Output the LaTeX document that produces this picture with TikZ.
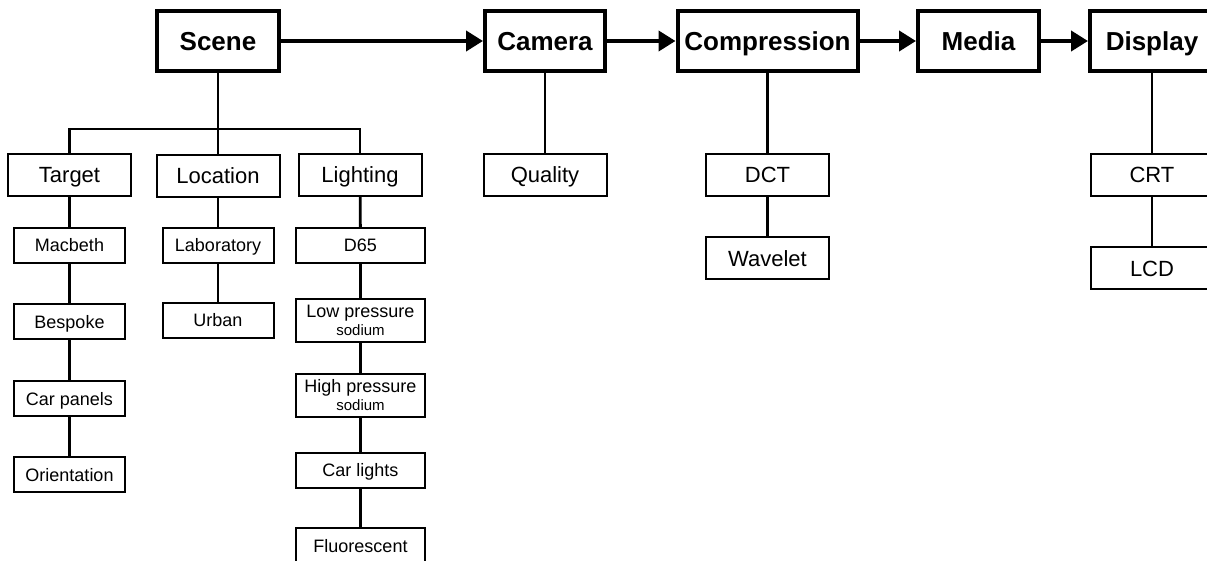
\documentclass[tikz,border=0pt]{standalone}
\usepackage{fontspec}
\setmainfont{Liberation Sans}
\usetikzlibrary{positioning, arrows.meta}

\begin{document}
\begin{tikzpicture}[x=0.5pt, y=-0.5pt,
  stage/.style={draw, line width=2pt, minimum height=30pt, inner sep=0pt, text height=9.3pt, text depth=0pt, font=\fontsize{13}{15}\selectfont\bfseries},
  part/.style={draw, line width=1pt, minimum width=61.5pt, minimum height=21pt, inner sep=0pt, text height=7.9pt, text depth=0pt, font=\fontsize{11}{13}\selectfont},
  cell/.style={draw, line width=1pt, minimum width=55.5pt, minimum height=17.5pt, inner sep=0pt, font=\fontsize{9}{10}\selectfont},
  item/.style={cell, text height=6.5pt, text depth=0pt},
  lamp/.style={item, minimum width=64.5pt},
  duo/.style={cell, minimum width=64.5pt, minimum height=21.5pt, align=center}]
  \useasboundingbox (0,0) rectangle (1207,561);
  \clip (0,0) rectangle (1207,561);
  \draw
    (218,41) node[stage, minimum width=61pt] (scene){Scene}
    (545,41) node[stage, minimum width=60pt] (camera){Camera}
    (767.5,41) node[stage, minimum width=90pt] (compression){Compression}
    (978.5,41) node[stage, minimum width=60.5pt] (media){Media}
    (1152,41) node[stage, minimum width=62pt] (display){Display};
  \draw
    (69.5,175) node[part] (target){Target}
    (218,176) node[part] (location){Location}
    (360,175) node[part] (lighting){Lighting}
    (545,175) node[part] (quality){Quality}
    (767.5,175) node[part] (dct){DCT}
    (767.5,258.5) node[part] (wavelet){Wavelet}
    (1152,175) node[part] (crt){CRT}
    (1152,268.5) node[part] (lcd){LCD};
  \draw
    (69.5,245.5) node[item] (macbeth){Macbeth}
    (69.5,322) node[item] (bespoke){Bespoke}
    (69.5,399) node[item] (carpanels){Car panels}
    (69.5,475) node[item] (orientation){Orientation}
    (218,245.5) node[item] (laboratory){Laboratory}
    (218,320.5) node[item] (urban){Urban}
    (360.5,245.5) node[lamp] (d65){D65}
    (360.5,320.5) node[duo] (lowsodium){Low pressure\\[-1pt]{\fontsize{7.5}{9}\selectfont sodium}}
    (360.5,395.5) node[duo] (highsodium){High pressure\\[-1pt]{\fontsize{7.5}{9}\selectfont sodium}}
    (360.5,470.5) node[lamp] (carlights){Car lights}
    (360.5,546) node[lamp] (fluorescent){Fluorescent};
  \begin{scope}[line width=1.4pt]
    \coordinate (split) at (218,129);
    \draw (scene) to (split);
    \draw (target.north) |- (split) -| (lighting.north);
    \draw (split) to (location);
    \draw (target) to (macbeth);
    \draw (macbeth) to (bespoke);
    \draw (bespoke) to (carpanels);
    \draw (carpanels) to (orientation);
    \draw (location) to (laboratory);
    \draw (laboratory) to (urban);
    \draw (lighting) to (d65);
    \draw (d65) to (lowsodium);
    \draw (lowsodium) to (highsodium);
    \draw (highsodium) to (carlights);
    \draw (carlights) to (fluorescent);
    \draw (camera) to (quality);
    \draw (compression) to (dct);
    \draw (dct) to (wavelet);
    \draw (display) to (crt);
    \draw (crt) to (lcd);
  \end{scope}
  \begin{scope}[line width=2pt, -{Triangle[length=8.5pt, width=10pt]}]
    \draw (scene) to (camera);
    \draw (camera) to (compression);
    \draw (compression) to (media);
    \draw (media) to (display);
  \end{scope}
\end{tikzpicture}
\end{document}
